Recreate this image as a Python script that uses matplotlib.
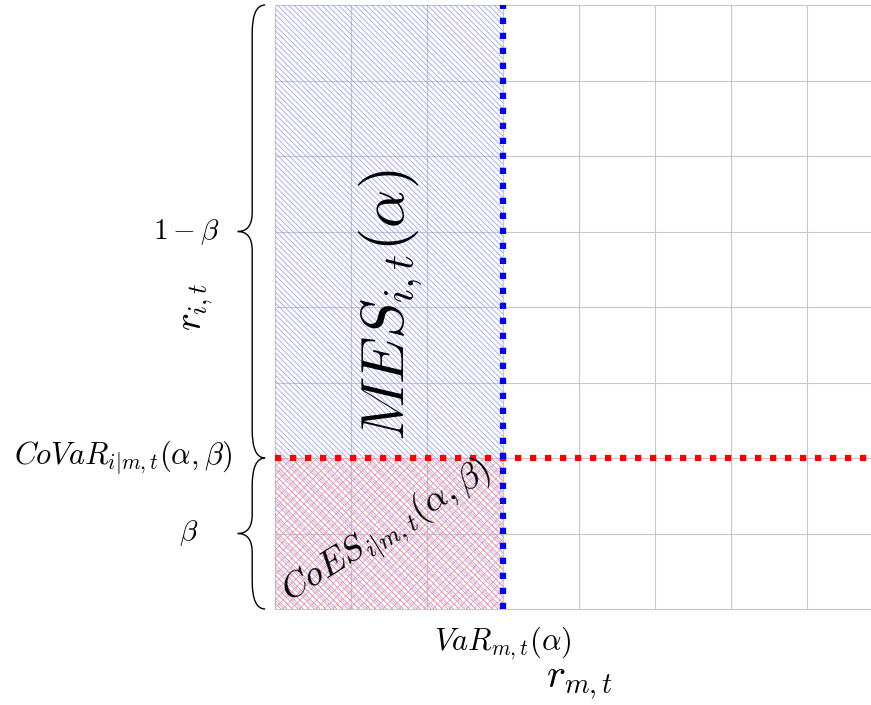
import matplotlib
matplotlib.use("Agg")
import matplotlib.pyplot as plt
from matplotlib.patches import Rectangle, PathPatch
from matplotlib.path import Path

plt.rcParams["mathtext.fontset"] = "cm"
plt.rcParams["hatch.linewidth"] = 0.5

# ── Diagram values (grid units) ──────────────────────────────────────────────
x_max = 7.84            # r_{m,t} axis extent
y_max = 8               # r_{i,t} axis extent
grid_x = [0, 1, 2, 3, 4, 5, 6, 7]
grid_y = [0, 1, 2, 3, 4, 5, 6, 7, 8]
var_x = 3               # VaR_{m,t}(alpha)
covar_y = 2             # CoVaR_{i|m,t}(alpha, beta)

BLUE_HATCH = "#9090ff"
RED_HATCH = "#ff9090"
GRID = "#c8c8c8"

fig = plt.figure(figsize=(8.71, 7.05), dpi=100)
ax = fig.add_axes([275 / 871, 96 / 705, 596 / 871, 604 / 705])
ax.set_xlim(0, x_max)
ax.set_ylim(0, y_max)
ax.axis("off")

# grid
ax.vlines(grid_x, 0, y_max, color=GRID, lw=0.8, clip_on=False, zorder=1)
ax.hlines(grid_y, 0, x_max, color=GRID, lw=0.8, clip_on=False, zorder=1)

# hatched regions
ax.add_patch(Rectangle((0, 0), var_x, y_max, facecolor="none",
                       edgecolor=BLUE_HATCH, lw=0, hatch="\\" * 6, zorder=2))
ax.add_patch(Rectangle((0, 0), var_x, covar_y, facecolor="none",
                       edgecolor=RED_HATCH, lw=0, hatch="xxxx", zorder=2))

# thresholds
ax.plot([0, x_max], [covar_y, covar_y], color="red", lw=4.5,
        linestyle=(0, (1, 1.4)), solid_capstyle="butt", clip_on=False, zorder=3)
ax.plot([var_x, var_x], [0, y_max], color="blue", lw=4.5,
        linestyle=(0, (1, 1.4)), solid_capstyle="butt", clip_on=False, zorder=4)


def brace(y0, y1, x_end=-0.13, x_spine=-0.30, x_tip=-0.49, r_end=0.37, r_tip=0.25):
    ym = (y0 + y1) / 2
    verts = [
        (x_end, y1), (x_spine, y1), (x_spine, y1 - r_end),
        (x_spine, ym + r_tip),
        (x_spine, ym), (x_tip, ym),
        (x_spine, ym), (x_spine, ym - r_tip),
        (x_spine, y0 + r_end),
        (x_spine, y0), (x_end, y0),
    ]
    codes = [Path.MOVETO, Path.CURVE3, Path.CURVE3, Path.LINETO,
             Path.CURVE3, Path.CURVE3, Path.CURVE3, Path.CURVE3,
             Path.LINETO, Path.CURVE3, Path.CURVE3]
    ax.add_patch(PathPatch(Path(verts, codes), facecolor="none",
                           edgecolor="black", lw=1.0, clip_on=False))


brace(covar_y, y_max)
brace(0, covar_y)

# labels
ax.text(1.52, 4.03, r"$MES_{i,t}(\alpha)$", fontsize=43, rotation=90,
        ha="center", va="center", zorder=5)
ax.text(1.48, 1.02, r"$CoES_{i|m,t}(\alpha,\beta)$", fontsize=26, rotation=32,
        ha="center", va="center", rotation_mode="anchor", zorder=5)
ax.text(-1.16, 4.99, r"$1-\beta$", fontsize=21, ha="center", va="center")
ax.text(-1.14, 1.0, r"$\beta$", fontsize=21, ha="center", va="center")
ax.text(-2.0, 2.0, r"$CoVaR_{i|m,t}(\alpha,\beta)$", fontsize=22,
        ha="center", va="center")
ax.text(-1.03, 4.0, r"$r_{i,t}$", fontsize=27, rotation=90,
        ha="center", va="center")
ax.text(2.99, -0.45, r"$VaR_{m,t}(\alpha)$", fontsize=22,
        ha="center", va="center")
ax.text(4.01, -0.97, r"$r_{m,t}$", fontsize=29, ha="center", va="center")

fig.savefig("out.png", dpi=100)
